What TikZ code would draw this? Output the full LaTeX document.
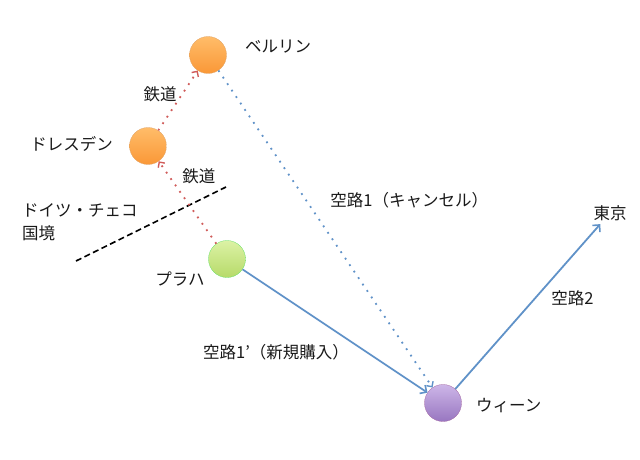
\documentclass[tikz,border=0pt]{standalone}
\usepackage{fontspec}
\setmainfont{Noto Sans CJK JP}
\usepackage{tikz}
\usetikzlibrary{positioning,arrows.meta}

\definecolor{railred}{RGB}{208,92,90}
\definecolor{airblue}{RGB}{96,146,200}
\definecolor{ink}{RGB}{25,25,25}

\begin{document}
\begin{tikzpicture}[
    x=1pt, y=-1pt,
    font=\fontsize{16.5}{19}\selectfont, text=ink,
    city/.style={circle, minimum size=37pt, inner sep=0pt, draw=#1!80!black!60, line width=0.3pt},
    rail/.style={railred, line width=1.8pt, dash pattern=on 1.8pt off 6pt, -{Straight Barb[length=4pt,width=8pt,line width=1.4pt]}},
    cancel/.style={airblue, line width=1.8pt, dash pattern=on 1.8pt off 6pt, -{Straight Barb[length=4pt,width=8pt,line width=1.4pt]}},
    flight/.style={airblue, line width=1.8pt, -{Straight Barb[length=5pt,width=10pt,line width=1.6pt]}}
]
\useasboundingbox (0,0) rectangle (640,460);

% cities
\node[city=orange, top color={rgb,255:red,255;green,188;blue,105}, bottom color={rgb,255:red,250;green,152;blue,55}] (berlin) at (208,55) {};
\node[city=orange, top color={rgb,255:red,255;green,188;blue,105}, bottom color={rgb,255:red,250;green,152;blue,55}] (dresden) at (148,146) {};
\node[city=green, top color={rgb,255:red,220;green,242;blue,165}, bottom color={rgb,255:red,182;green,218;blue,105}] (prague) at (227,259) {};
\node[city=violet, top color={rgb,255:red,205;green,182;blue,232}, bottom color={rgb,255:red,152;green,118;blue,192}] (vienna) at (443,403) {};
\node (tokyo) at (610,213) {東京};

% labels
\node[right=15pt of berlin, yshift=8pt] (berlinlabel) {ベルリン};
\node[left=13pt of dresden, yshift=2pt] (dresdenlabel) {ドレスデン};
\node (praguelabel) at (180,279) {プラハ};
\node[right=11pt of vienna, yshift=-3pt] (viennalabel) {ウィーン};
\node[anchor=north west, align=left, inner sep=0pt, font=\fontsize{16.5}{23}\selectfont] (borderlabel) at (22,203) {ドイツ・チェコ\\国境};

% border
\coordinate (borderA) at (76,261);
\coordinate (borderB) at (226,187);
\draw[line width=1.6pt, dash pattern=on 6pt off 3.5pt] (borderA) -- (borderB);

% connections
\draw[rail] (prague) -- node[pos=0.82, right=9pt, text=ink] (rail2) {鉄道} (dresden);
\draw[rail] (dresden) -- node[pos=0.6, left=1pt, text=ink] (rail1) {鉄道} (berlin);
\draw[cancel] (berlin) -- node[pos=0.41, right=20pt, text=ink] (air1) {空路1（キャンセル）} (vienna);
\draw[flight] (prague) -- (vienna);
\node (air1new) at (276,352) {空路1’（新規購入）};
\draw[flight] (vienna) -- node[pos=0.55, right=12pt, text=ink] (air2) {空路2} (tokyo);

\end{tikzpicture}
\end{document}
